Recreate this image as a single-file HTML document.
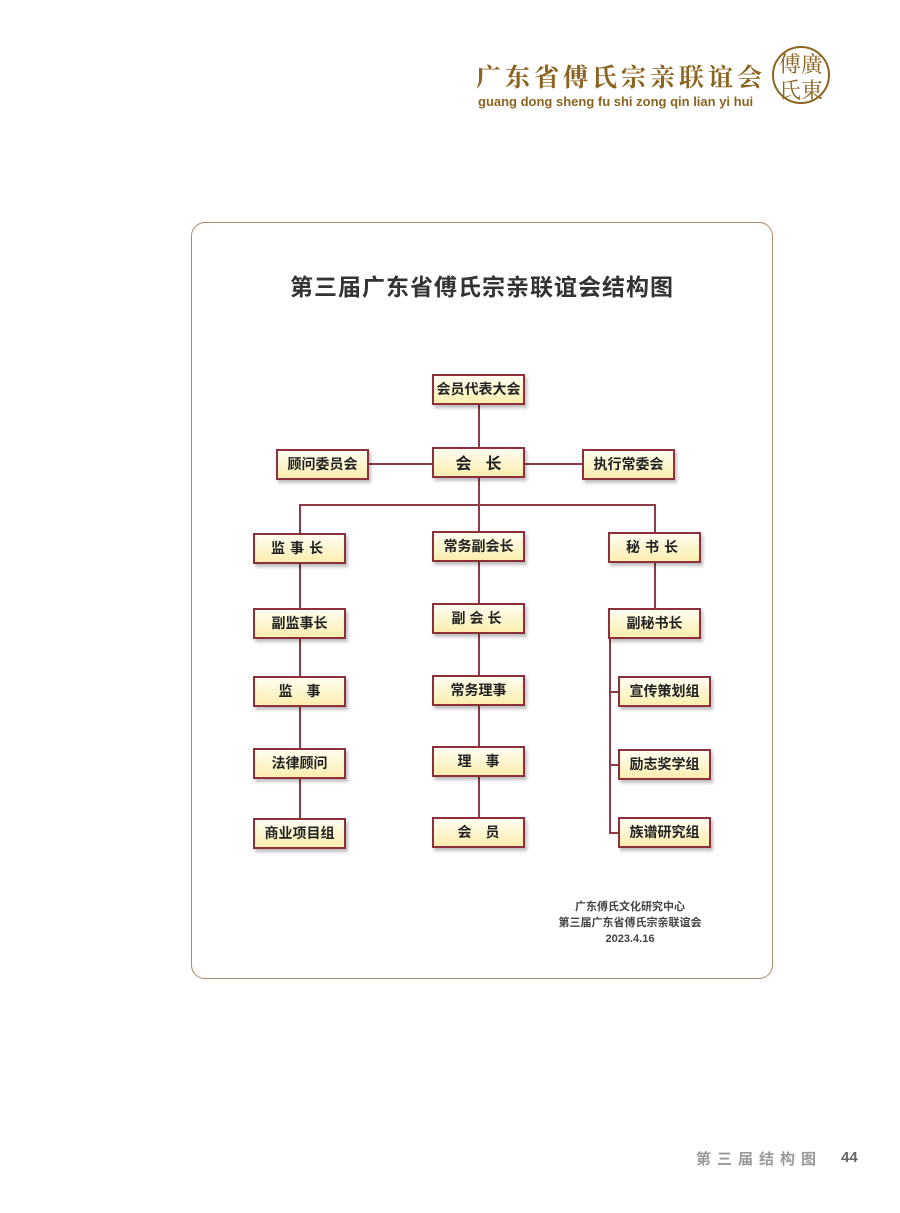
<!DOCTYPE html>
<html><head><meta charset="utf-8"><style>
body{margin:0;width:900px;height:1213px;background:#fff;position:relative;overflow:hidden;font-family:"Liberation Sans","Noto Sans CJK SC",sans-serif}
.a{position:absolute}
.b{position:absolute;width:93px;height:31px;box-sizing:border-box;border:2px solid #8e2f3c;background:linear-gradient(#fffdf0,#fbeeb0);box-shadow:2px 3px 3px rgba(0,0,0,.25);text-align:center;line-height:27px;font-weight:bold;font-size:14px;color:#222;font-family:"Noto Sans CJK SC",sans-serif}
.h{position:absolute;height:2px;background:#8e3a47}
.v{position:absolute;width:2px;background:#8e3a47}
</style></head><body>
<div class="a" style="left:476px;top:58px;font-size:25px;color:#8b6420;font-weight:bold;letter-spacing:4px;font-family:'Noto Serif CJK SC',serif">广东省傅氏宗亲联谊会</div>
<div class="a" style="left:478px;top:94px;font-size:13px;color:#8b6420;font-weight:bold">guang dong sheng fu shi zong qin lian yi hui</div>
<div class="a" style="left:772px;top:46px;width:58px;height:58px;border:2px solid #8b6420;border-radius:50%;color:#8b6420;font-size:22px;line-height:26px;text-align:center;font-family:'Noto Serif CJK SC',serif;box-sizing:border-box;padding-top:3px">傅廣<br>氏東</div>

<div class="a" style="left:191px;top:222px;width:582px;height:757px;border:1.5px solid #a88a6c;border-radius:14px;box-sizing:border-box"></div>
<div class="a" style="left:191px;top:268px;width:582px;text-align:center;font-size:23px;letter-spacing:1px;font-weight:bold;color:#333;font-family:'Noto Sans CJK SC',sans-serif">第三届广东省傅氏宗亲联谊会结构图</div>

<div class="v" style="left:478px;top:405px;height:42px"></div>
<div class="h" style="left:369px;top:463px;width:64px"></div>
<div class="h" style="left:524px;top:463px;width:59px"></div>
<div class="v" style="left:478px;top:477px;height:55px"></div>
<div class="h" style="left:299px;top:504px;width:357px"></div>
<div class="v" style="left:299px;top:504px;height:30px"></div>
<div class="v" style="left:654px;top:504px;height:30px"></div>
<div class="v" style="left:299px;top:563px;height:256px"></div>
<div class="v" style="left:478px;top:561px;height:257px"></div>
<div class="v" style="left:654px;top:562px;height:47px"></div>
<div class="v" style="left:609px;top:638px;height:196px"></div>
<div class="h" style="left:609px;top:691px;width:10px"></div>
<div class="h" style="left:609px;top:764px;width:10px"></div>
<div class="h" style="left:609px;top:832px;width:10px"></div>

<div class="b" style="left:432px;top:374px">会员代表大会</div>
<div class="b" style="left:432px;top:447px;font-size:16px;letter-spacing:14px;padding-left:14px">会长</div>
<div class="b" style="left:276px;top:449px">顾问委员会</div>
<div class="b" style="left:582px;top:449px">执行常委会</div>
<div class="b" style="left:253px;top:533px;letter-spacing:5px">监事长</div>
<div class="b" style="left:432px;top:531px">常务副会长</div>
<div class="b" style="left:608px;top:532px;letter-spacing:5px">秘书长</div>
<div class="b" style="left:253px;top:608px">副监事长</div>
<div class="b" style="left:432px;top:603px;letter-spacing:4px">副会长</div>
<div class="b" style="left:608px;top:608px">副秘书长</div>
<div class="b" style="left:253px;top:676px;letter-spacing:14px;padding-left:14px">监事</div>
<div class="b" style="left:432px;top:675px">常务理事</div>
<div class="b" style="left:618px;top:676px">宣传策划组</div>
<div class="b" style="left:253px;top:748px">法律顾问</div>
<div class="b" style="left:432px;top:746px;letter-spacing:14px;padding-left:14px">理事</div>
<div class="b" style="left:618px;top:749px">励志奖学组</div>
<div class="b" style="left:253px;top:818px">商业项目组</div>
<div class="b" style="left:432px;top:817px;letter-spacing:14px;padding-left:14px">会员</div>
<div class="b" style="left:618px;top:817px">族谱研究组</div>

<div class="a" style="left:540px;top:899px;width:180px;text-align:center;font-size:11px;line-height:16px;color:#444;font-weight:bold">广东傅氏文化研究中心<br>第三届广东省傅氏宗亲联谊会<br>2023.4.16</div>

<div class="a" style="left:696px;top:1148px;font-size:15px;font-weight:bold;color:#999;letter-spacing:6px;font-family:'Noto Sans CJK SC',sans-serif">第三届结构图</div>
<div class="a" style="left:841px;top:1149px;font-size:15px;font-weight:bold;color:#666">44</div>
</body></html>
